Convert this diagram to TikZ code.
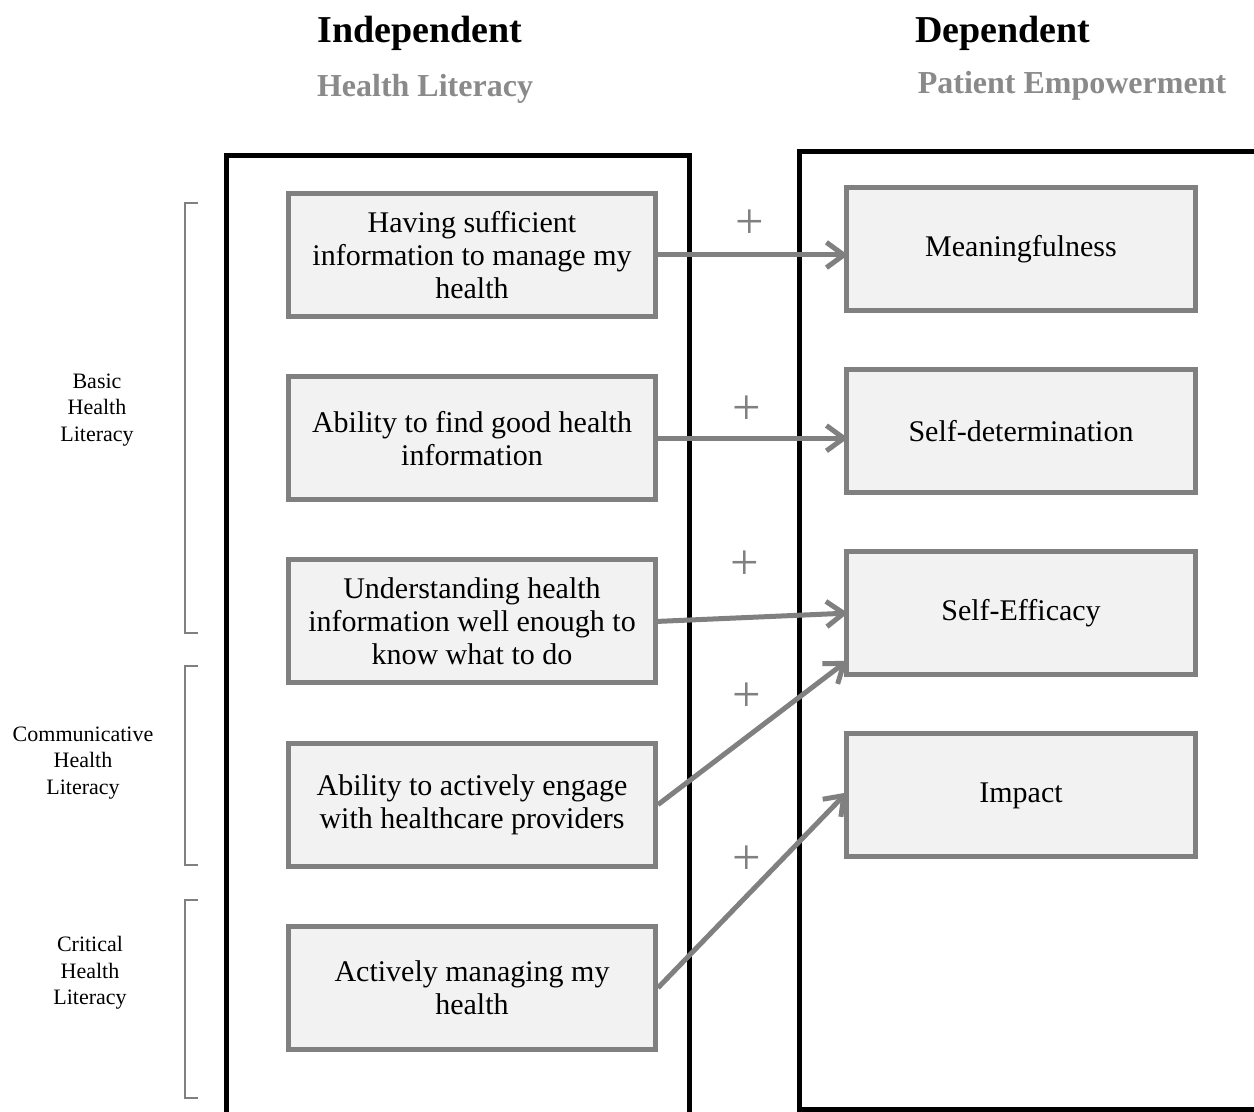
\documentclass[tikz,border=0pt]{standalone}
\usepackage{fontspec}
\setmainfont{Liberation Serif}
\usetikzlibrary{positioning, calc, arrows.meta}
\definecolor{boxgray}{HTML}{808080}
\definecolor{boxfill}{HTML}{F2F2F2}
\definecolor{headgray}{HTML}{8A8A8A}

\begin{document}
\begin{tikzpicture}[x=0.75pt,y=-0.75pt,node distance=137.4pt,on grid,
    item/.style={draw=boxgray,fill=boxfill,line width=3.75pt,minimum width=275.25pt,
      minimum height=92.25pt,align=center,inner sep=0pt,font=\fontsize{22.5}{24.75}\selectfont},
    effect/.style={item,minimum width=261.75pt},
    link/.style={draw=boxgray,line width=3.75pt,shorten >=-3pt,-{Straight Barb[length=13pt,width=19pt]}},
    plus/.style={text=boxgray,inner sep=0pt,font=\fontsize{38}{40}\selectfont},
    head/.style={anchor=base,font=\fontsize{28.5}{30}\selectfont\bfseries},
    sub/.style={anchor=base,text=headgray,font=\fontsize{24}{26}\selectfont\bfseries},
    level/.style={align=center,font=\fontsize{16.5}{20}\selectfont},
    bracket/.style={draw=boxgray,line width=1.2pt},
    frame/.style={line width=3.75pt}]

  \useasboundingbox (0,0) rectangle (1254,1112);
  \clip (0,0) rectangle (1254,1112);

  % titles
  \node[head] (indep) at (420,43) {Independent};
  \node[sub]  (hl)    at (425,97) {Health Literacy};
  \node[head] (dep)   at (1003,43) {Dependent};
  \node[sub]  (pe)    at (1072,94) {Patient Empowerment};

  % outer frames
  \draw[frame] (226,1125) |- (689.5,155.5) -- (689.5,1125);
  \draw[frame] (1265,151.5) -| (799.5,1109) -- (1265,1109);

  % health literacy items
  \node[item] (hl_1) at (472,255) {Having sufficient\\information to manage my\\health};
  \node[item] (hl_2) [below=of hl_1] {Ability to find good health\\information};
  \node[item] (hl_3) [below=of hl_2] {Understanding health\\information well enough to\\know what to do};
  \node[item] (hl_4) [below=of hl_3] {Ability to actively engage\\with healthcare providers};
  \node[item] (hl_5) [below=of hl_4] {Actively managing my\\health};

  % empowerment items
  \node[effect] (pe_1) at (1021,249) {Meaningfulness};
  \node[effect] (pe_2) [below=136.6pt of pe_1] {Self-determination};
  \node[effect] (pe_3) [below=136.6pt of pe_2] {Self-Efficacy};
  \node[effect] (pe_4) [below=136.6pt of pe_3] {Impact};

  % levels
  \node[level] (basic) at (97,410) {Basic\\Health\\Literacy};
  \node[level] (comm)  at (83,763) {Communicative\\Health\\Literacy};
  \node[level] (crit)  at (90,973) {Critical\\Health\\Literacy};
  \draw[bracket] (198,203) -- (185,203) -- (185,633) -- (198,633);
  \draw[bracket] (198,666) -- (185,666) -- (185,865) -- (198,865);
  \draw[bracket] (198,900) -- (185,900) -- (185,1098) -- (198,1098);

  % links
  \draw[link] (hl_1.east) -- (hl_1.east -| pe_1.west);
  \draw[link] (hl_2.east) -- (hl_2.east -| pe_2.west);
  \draw[link] (hl_3.east) -- (pe_3.west);
  \draw[link] (hl_4.east) -- ($(pe_3.south west)!0.11!(pe_3.north west)$);
  \draw[link] (hl_5.east) -- (pe_4.west);

  \node[plus] (p_1) at (750,224) {+};
  \node[plus] (p_2) at (747,410) {+};
  \node[plus] (p_3) at (745,565) {+};
  \node[plus] (p_4) at (747,697) {+};
  \node[plus] (p_5) at (747,860) {+};
\end{tikzpicture}
\end{document}
